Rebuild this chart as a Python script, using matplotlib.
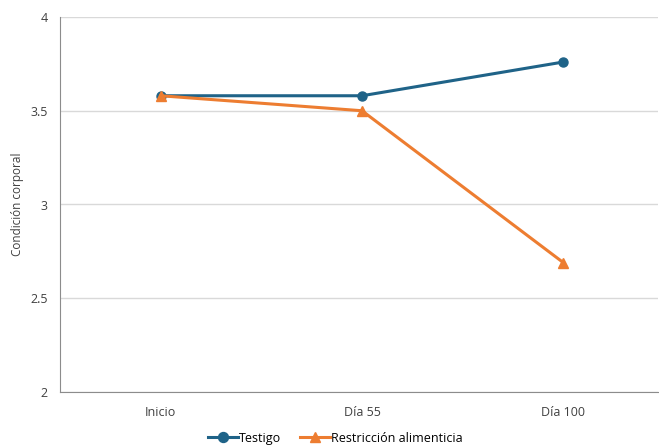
import numpy as np
import matplotlib.pyplot as plt

plt.rcParams['font.family'] = ['Open Sans', 'DejaVu Sans']

categorias = ['Inicio', 'Día 55', 'Día 100']
testigo = [3.58, 3.58, 3.76]
restriccion = [3.58, 3.50, 2.69]

fig = plt.figure(figsize=(6.59, 4.48), dpi=100)
ax = fig.add_axes([60 / 659, 56 / 448, 598 / 659, 375 / 448])

x = np.arange(len(categorias))
ax.plot(x, testigo, color='#1f6388', lw=2.2, marker='o', ms=6.5, label='Testigo', zorder=3)
ax.plot(x, restriccion, color='#ed7d31', lw=2.2, marker='^', ms=7, label='Restricción alimenticia', zorder=3)

ax.set_xlim(-0.5, 2.47)
ax.set_ylim(2, 4)
ax.set_yticks([2, 2.5, 3, 3.5, 4])
ax.set_yticklabels(['2', '2.5', '3', '3.5', '4'])
ax.set_xticks(x)
ax.set_xticklabels(categorias)
ax.grid(axis='y', color='#d9d9d9', lw=1)
ax.set_axisbelow(True)
ax.tick_params(length=0, labelsize=9, colors='#404040', pad=10)
ax.tick_params(axis='y', pad=9)
for s in ['top', 'right']:
    ax.spines[s].set_visible(False)
ax.spines['left'].set_color('#8c8c8c')
ax.spines['bottom'].set_color('#8c8c8c')
ax.set_ylabel('Condición corporal', fontsize=8.5, color='#404040')
ax.yaxis.set_label_coords(-36 / 598, 0.5)

fig.legend(*ax.get_legend_handles_labels(), loc='center', bbox_to_anchor=(335 / 659, 10 / 448),
           ncol=2, frameon=False, fontsize=9, handlelength=2.4, handletextpad=0.1,
           columnspacing=1.5, markerscale=1.1)

fig.savefig('out.png', dpi=100)
